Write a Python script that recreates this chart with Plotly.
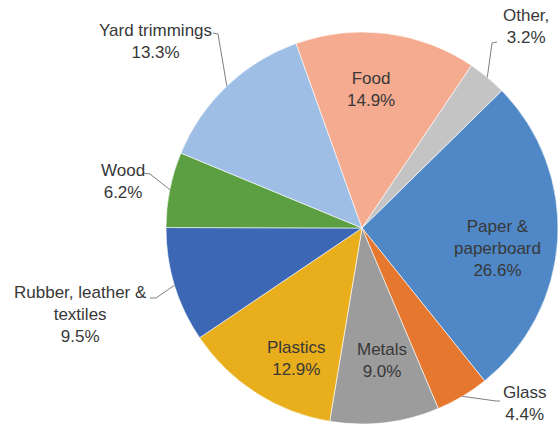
import math
import plotly.graph_objects as go

# ---- data ----
categories = ["Paper & paperboard", "Glass", "Metals", "Plastics",
              "Rubber, leather & textiles", "Wood", "Yard trimmings", "Food", "Other"]
shares = [26.6, 4.4, 9.0, 12.9, 9.5, 6.2, 13.3, 14.9, 3.2]
display_names = ["Paper &<br>paperboard", "Glass", "Metals", "Plastics",
                 "Rubber, leather &<br>textiles", "Wood", "Yard trimmings", "Food", "Other,"]
colors = ["#4F87C7", "#E5772E", "#9C9C9C", "#E9AE1B",
          "#3C67B5", "#5B9F42", "#9EBEE6", "#F4AB8F", "#C4C4C4"]

# ---- layout / style ----
W, H = 558, 430
CX, CY, R = 362, 228, 196          # pie centre (px from top-left) and radius
ROTATION = 45.5                    # start angle of first slice, clockwise from 12 o'clock
FONT = "Liberation Sans, Arial, sans-serif"
TXT = "#383838"

# label text centre (px) for each slice
label_pos = [(497, 248), (524, 403), (382, 360), (296, 358),
             (80, 314), (123, 181), (155, 41), (371, 89), (526, 27)]
inside = [True, False, True, True, False, False, False, True, False]
leader_start = [None, (500, 401), None, None, (150, 298), (143, 173), (213, 33), None, (497, 42)]
leader_elbow = [None, (496, 401), None, None, (156, 298), (150, 174), (218, 34), None, (492, 43)]

fig = go.Figure(go.Pie(
    labels=categories, values=shares, sort=False, direction="clockwise",
    rotation=ROTATION, textinfo="none", hoverinfo="label+percent",
    marker=dict(colors=colors, line=dict(color="white", width=0.6)),
    domain=dict(x=[(CX - R) / W, (CX + R) / W],
                y=[(H - CY - R) / H, (H - CY + R) / H]),
    showlegend=False,
))

def px2paper(x, y):
    return x / W, 1 - y / H

total = sum(shares)
ang = ROTATION
annotations, shapes = [], []
for i, v in enumerate(shares):
    span = v / total * 360
    mid = math.radians(ang + span / 2)
    ang += span
    tx, ty = px2paper(*label_pos[i])
    annotations.append(dict(
        x=tx, y=ty, xref="paper", yref="paper", showarrow=False,
        text=f"{display_names[i]}<br>{v:.1f}%", align="center",
        font=dict(family=FONT, size=17, color=TXT), xanchor="center", yanchor="middle"))
    if not inside[i]:
        ex = CX + R * math.sin(mid)
        ey = CY - R * math.cos(mid)
        pts = [leader_start[i], leader_elbow[i], (ex, ey)]
        path = "M " + " L ".join(f"{px2paper(x, y)[0]},{px2paper(x, y)[1]}" for x, y in pts)
        shapes.append(dict(type="path", path=path, xref="paper", yref="paper",
                           line=dict(color="#7f7f7f", width=1)))

fig.update_layout(
    width=W, height=H, margin=dict(l=0, r=0, t=0, b=0),
    paper_bgcolor="white", plot_bgcolor="white",
    annotations=annotations, shapes=shapes,
)
fig.write_html("out.html", config={"displayModeBar": False},
               post_script="document.body.style.margin='0';document.body.style.overflow='hidden';")
